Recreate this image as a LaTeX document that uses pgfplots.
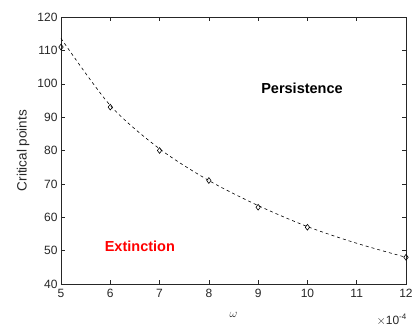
\documentclass[border=0pt]{standalone}
\usepackage{fontspec}
\setmainfont{Liberation Sans}
\usepackage{pgfplots}
\pgfplotsset{compat=1.18}
\definecolor{axgray}{RGB}{38,38,38}
\begin{document}
\begin{tikzpicture}
\useasboundingbox (-61pt,-47pt) rectangle (358pt,284pt);
\begin{axis}[
  scale only axis,
  width=345pt, height=267pt,
  xmin=5, xmax=12, ymin=40, ymax=120,
  xtick={5,6,...,12}, ytick={40,50,...,120},
  tick align=inside,
  major tick length=4pt,
  axis line style={axgray, line width=0.6pt},
  tick style={axgray, line width=0.5pt},
  ticklabel style={font=\fontsize{12}{14}\selectfont, text=axgray},
  /pgf/number format/assume math mode=true,
  xticklabel style={yshift=-2pt},
  ylabel={Critical points},
  ylabel style={at={(axis description cs:-0.11,0.5)}, anchor=center, font=\fontsize{13.5}{16}\selectfont, text=axgray},
  xlabel={$\omega$},
  xlabel style={at={(axis description cs:0.5,-0.116)}, anchor=center, font=\fontsize{13}{15}\selectfont, text=axgray},
  clip=false,
]
\addplot[black, dashed, line width=0.6pt, smooth, tension=0.5] coordinates {
  (5,113.6) (6,93.5) (7,80.5) (8,71) (9,63.5) (10,57.2) (11,52.2) (12,48)
};
\addplot[only marks, mark=diamond, mark size=2.9pt, mark options={black, line width=0.6pt}] coordinates {
  (5,111) (6,93) (7,80) (8,71) (9,63) (10,57) (12,48)
};
\node[font=\bfseries\fontsize{14.5}{17}\selectfont] at (axis cs:9.89,98.7) {Persistence};
\node[font=\bfseries\fontsize{14.5}{17}\selectfont, text=red] at (axis cs:6.6,51.4) {Extinction};
\node[anchor=north east, inner sep=0pt, font=\fontsize{12}{14}\selectfont, text=axgray] at (rel axis cs:1,0) [yshift=-30pt, xshift=1pt] {$\times$10\textsuperscript{-4}};
\end{axis}
\end{tikzpicture}
\end{document}
